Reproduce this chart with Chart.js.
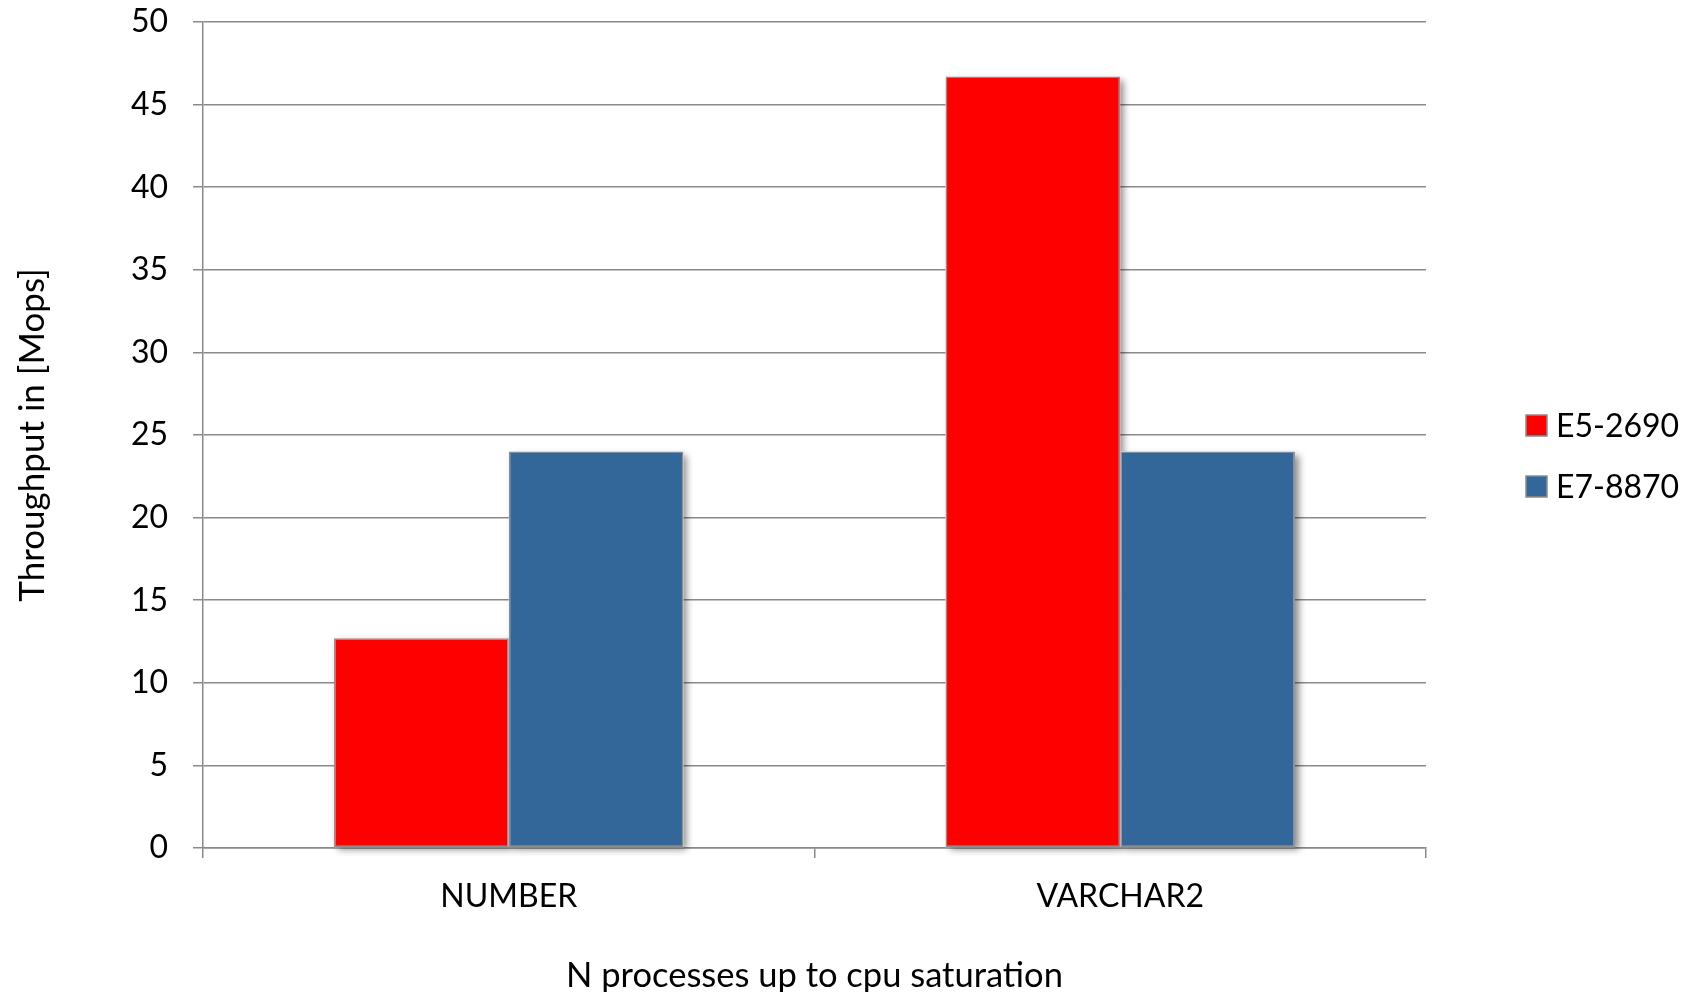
<!DOCTYPE html>
<html>
<head>
<meta charset="utf-8">
<script src="https://cdn.jsdelivr.net/npm/chart.js@4.4.1/dist/chart.umd.min.js"></script>
<style>
  html, body { margin: 0; padding: 0; background: #fff; }
  #chart { display: block; }
</style>
</head>
<body>
<canvas id="chart" width="1694" height="992"></canvas>
<script>
const categories = ['NUMBER', 'VARCHAR2'];
const seriesNames = ['E5-2690', 'E7-8870'];
const e5Values = [12.7, 46.7];
const e7Values = [24.0, 24.0];
const yTicks = [0, 5, 10, 15, 20, 25, 30, 35, 40, 45, 50];

const FONT = 'Lato, "Open Sans", sans-serif';
const GRID = '#8a8a8a';
const plotLeft = 203, plotTop = 22, plotRight = 1426, plotBottom = 848;

// soft drop shadow behind each bar, drawn before the bars themselves
const barShadow = {
  id: 'barShadow',
  beforeDatasetsDraw(chart) {
    const ctx = chart.ctx;
    ctx.save();
    ctx.shadowColor = 'rgba(0,0,0,0.45)';
    ctx.shadowBlur = 7;
    ctx.shadowOffsetX = 4;
    ctx.shadowOffsetY = 3;
    ctx.fillStyle = '#fff';
    chart.getSortedVisibleDatasetMetas().forEach((meta) => {
      meta.data.forEach((bar) => {
        const { x, y, base, width } = bar.getProps(['x', 'y', 'base', 'width'], true);
        ctx.fillRect(x - width / 2, y, width, base - y);
      });
    });
    ctx.restore();
  }
};

// legend to the right of the plot, like the spreadsheet original
const sideLegend = {
  id: 'sideLegend',
  afterDraw(chart) {
    const ctx = chart.ctx;
    const x0 = chart.chartArea.right + 100;
    ctx.save();
    ctx.font = '32px ' + FONT;
    ctx.textBaseline = 'middle';
    chart.data.datasets.forEach((ds, i) => {
      const cy = 425.5 + i * 61;
      ctx.fillStyle = ds.backgroundColor;
      ctx.fillRect(x0, cy - 10.5, 21, 21);
      ctx.strokeStyle = '#8c8c8c';
      ctx.lineWidth = 1.5;
      ctx.strokeRect(x0, cy - 10.5, 21, 21);
      ctx.fillStyle = '#000';
      ctx.fillText(ds.label, x0 + 30, cy + 1);
    });
    ctx.restore();
  }
};

new Chart(document.getElementById('chart'), {
  type: 'bar',
  data: {
    labels: categories,
    datasets: [
      { label: seriesNames[0], data: e5Values, backgroundColor: '#ff0000' },
      { label: seriesNames[1], data: e7Values, backgroundColor: '#336699' }
    ]
  },
  options: {
    responsive: false,
    animation: false,
    layout: { padding: { left: 0, top: plotTop, right: 1694 - plotRight, bottom: 0 } },
    datasets: {
      bar: {
        categoryPercentage: 2 / 3.5,
        barPercentage: 1,
        borderColor: '#8c8c8c',
        borderWidth: 1.5,
        borderSkipped: false
      }
    },
    plugins: {
      legend: { display: false },
      tooltip: { enabled: false }
    },
    scales: {
      x: {
        afterFit: (scale) => {
          scale.height = 992 - plotBottom;
          scale.paddingLeft = 0;
          scale.paddingRight = 0;
        },
        grid: {
          offset: true,
          color: (ctx) => (ctx.index === categories.length ? GRID : 'rgba(0,0,0,0)'),
          tickColor: GRID,
          lineWidth: 1.5,
          tickLength: 10
        },
        border: { display: true, color: GRID, width: 1.5 },
        ticks: { color: '#000', font: { family: FONT, size: 32 }, padding: 19 },
        title: {
          display: true,
          text: 'N processes up to cpu saturation',
          color: '#000',
          font: { family: FONT, size: 34.5 },
          padding: { top: 0, bottom: -5 }
        }
      },
      y: {
        min: 0,
        max: 50,
        afterFit: (scale) => {
          scale.width = plotLeft;
          scale.paddingTop = 0;
          scale.paddingBottom = 0;
        },
        afterBuildTicks: (scale) => { scale.ticks = yTicks.map((v) => ({ value: v })); },
        grid: { color: GRID, lineWidth: 1.5, tickLength: 10 },
        border: { display: true, color: GRID, width: 1.5 },
        ticks: { color: '#000', font: { family: FONT, size: 32 }, padding: 25 },
        title: {
          display: true,
          text: 'Throughput in [Mops]',
          color: '#000',
          font: { family: FONT, size: 35 },
          padding: { top: 12, bottom: 0 }
        }
      }
    }
  },
  plugins: [barShadow, sideLegend]
});
</script>
</body>
</html>
